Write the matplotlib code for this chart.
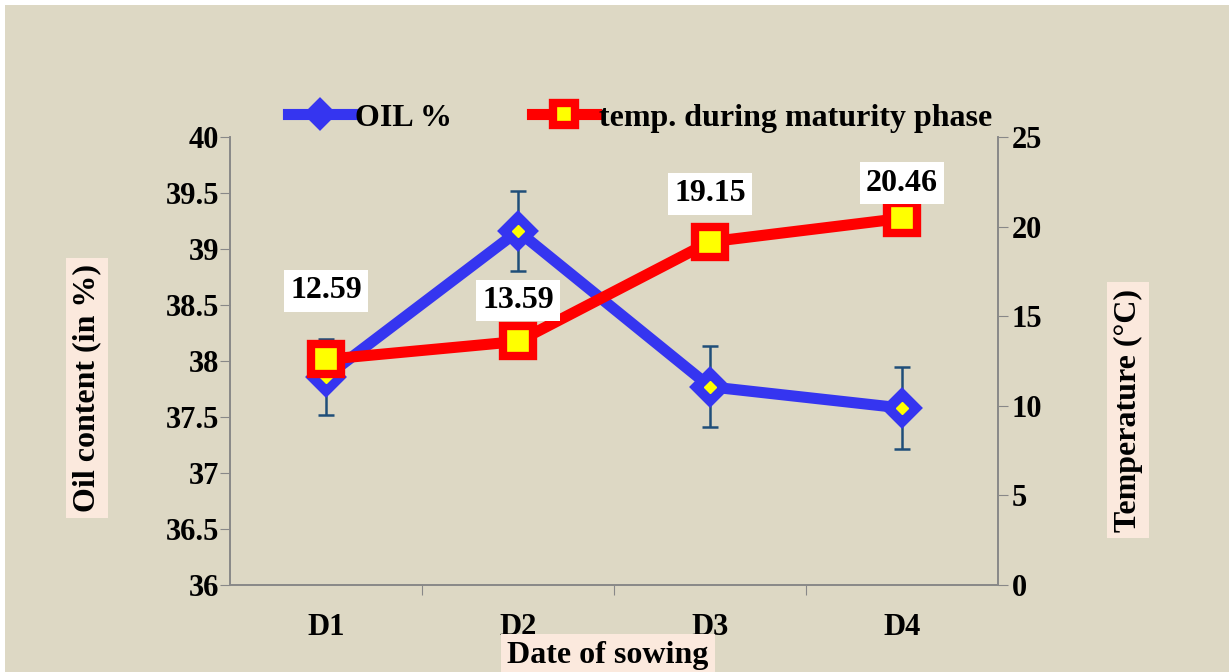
"""
Oil content vs temperature during maturity phase, by date of sowing
"""
import numpy as np
import matplotlib.pyplot as plt
from matplotlib.patches import Rectangle

plt.rcParams['font.family'] = ['Liberation Serif', 'DejaVu Serif']
plt.rcParams['font.weight'] = 'bold'

dates = ['D1', 'D2', 'D3', 'D4']
oil = [37.86, 39.16, 37.77, 37.58]
oil_err = [0.34, 0.36, 0.36, 0.37]
temp = [12.59, 13.59, 19.15, 20.46]

bg = '#DDD8C4'
lab_bg = '#FBE9DD'
# label offsets above each point (points), placed by hand like the original
lab_off = [39, 19, 24, 15]

fig = plt.figure(figsize=(12.29, 6.72), dpi=100, facecolor='white')
fig.patches.append(Rectangle((5 / 1229, 0), 1, 1 - 5 / 672, transform=fig.transFigure,
                             facecolor=bg, edgecolor='none', zorder=-10))

ax = fig.add_axes([230 / 1229, 1 - 585 / 672, 768 / 1229, 448 / 672])
ax.set_facecolor('none')
x = np.arange(len(dates))

ax.errorbar(x, oil, yerr=oil_err, fmt='none', ecolor='#1F4E79', elinewidth=1.8,
            capsize=6, capthick=1.8, zorder=1)
l1, = ax.plot(x, oil, color='#3535F0', lw=8, marker='D', ms=17, mfc='#3535F0',
              mec='#3535F0', mew=4, label='OIL %', zorder=2)
ax.plot(x, oil, ls='none', marker='D', ms=6, color='#FFFF00', zorder=3)

ax.set_ylim(36, 40)
ax.set_yticks(np.arange(36, 40.01, 0.5))
ax.set_yticklabels(['36', '36.5', '37', '37.5', '38', '38.5', '39', '39.5', '40'])
ax.set_xlim(-0.5, 3.5)
ax.set_xticks([0.5, 1.5, 2.5])
ax.set_xticklabels([])
ax.set_xticks(x, minor=True)
ax.set_xticklabels(dates, minor=True)
ax.tick_params(axis='x', which='minor', length=0, pad=20, labelsize=22)
ax.tick_params(axis='x', which='major', length=7, color='#888888')
ax.tick_params(axis='y', length=7, color='#888888', labelsize=22, pad=1)

ax2 = ax.twinx()
l2, = ax2.plot(x, temp, color='#FF0000', lw=8, marker='s', ms=22, mfc='#FFFF00',
               mec='#FF0000', mew=6, label='temp. during maturity phase', zorder=3)
ax2.set_ylim(0, 25)
ax2.set_yticks(np.arange(0, 26, 5))
ax2.tick_params(axis='y', length=7, color='#888888', labelsize=22, pad=3)

for a in (ax, ax2):
    a.spines['top'].set_visible(False)
    for s in ('left', 'right', 'bottom'):
        a.spines[s].set_color('#888888')
        a.spines[s].set_linewidth(1.2)

for xi, t, off in zip(x, temp, lab_off):
    ax2.annotate(f'{t:.2f}', (xi, t), xytext=(0, off), textcoords='offset points',
                 ha='center', va='bottom', fontsize=23, fontweight='bold',
                 bbox=dict(boxstyle='square,pad=0.2', fc='white', ec='none'))

fig.legend(handles=[l1, l2], loc='center', bbox_to_anchor=(640 / 1229, 1 - 118 / 672),
           ncol=2, frameon=False, fontsize=23, handlelength=2.0, handletextpad=0.1,
           columnspacing=2.5, markerscale=0.75)

fig.text(87 / 1229, 1 - 388 / 672, 'Oil content (in %)', rotation=90, ha='center',
         va='center', fontsize=23, fontweight='bold',
         bbox=dict(boxstyle='square,pad=0.2', fc=lab_bg, ec='none'))
fig.text(1128 / 1229, 1 - 410 / 672, 'Temperature (°C)', rotation=90, ha='center',
         va='center', fontsize=23, fontweight='bold',
         bbox=dict(boxstyle='square,pad=0.2', fc=lab_bg, ec='none'))
fig.text(608 / 1229, 1 - 655 / 672, 'Date of sowing', ha='center', va='center',
         fontsize=23, fontweight='bold',
         bbox=dict(boxstyle='square,pad=0.2', fc=lab_bg, ec='none'))

fig.savefig('out.png', dpi=100, facecolor='white')
